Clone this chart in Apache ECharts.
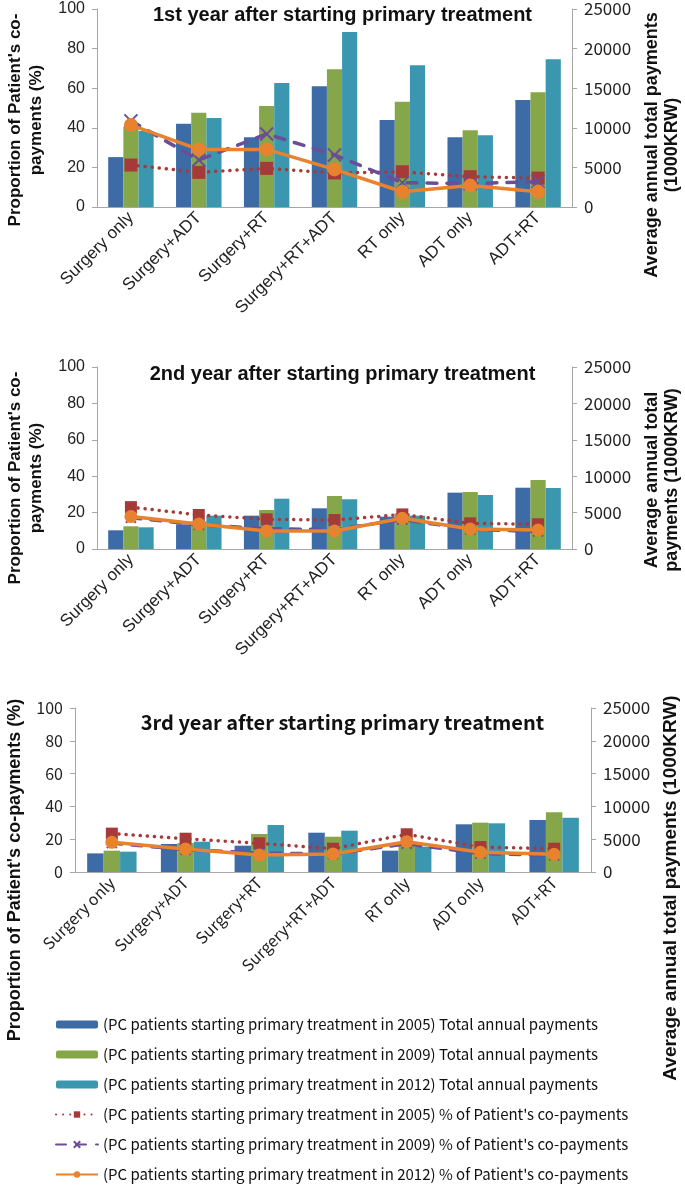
<!DOCTYPE html>
<html><head><meta charset="utf-8">
<script src="https://cdn.jsdelivr.net/npm/echarts@6/dist/echarts.min.js"></script>
<style>html,body{margin:0;padding:0;background:#fff}#c{width:685px;height:1186px}</style>
</head><body><div id="c"></div>
<script>
const categories = ['Surgery only','Surgery+ADT','Surgery+RT','Surgery+RT+ADT','RT only','ADT only','ADT+RT'];
const seriesNames = [
  '(PC patients starting primary treatment in 2005) Total annual payments',
  '(PC patients starting primary treatment in 2009) Total annual payments',
  '(PC patients starting primary treatment in 2012) Total annual payments',
  "(PC patients starting primary treatment in 2005) % of Patient's co-payments",
  "(PC patients starting primary treatment in 2009) % of Patient's co-payments",
  "(PC patients starting primary treatment in 2012) % of Patient's co-payments"
];
const leftTicks = [0,20,40,60,80,100];
const rightTicks = [0,5000,10000,15000,20000,25000];
const panelTitles = ['1st year after starting primary treatment','2nd year after starting primary treatment','3rd year after starting primary treatment'];

// Year 1
const pay1_2005 = [6300, 10500, 8800, 15250, 11000, 8800, 13500];
const pay1_2009 = [10100, 11900, 12750, 17400, 13300, 9700, 14500];
const pay1_2012 = [9600, 11250, 15650, 22100, 17900, 9050, 18650];
const co1_2005 = [21.2, 17.5, 19.5, 17.2, 17.8, 15.3, 14.6];
const co1_2009 = [43.5, 23.7, 36.9, 26.3, 12.3, 11.8, 12.8];
const co1_2012 = [41.4, 29.1, 29.1, 19.0, 7.7, 10.8, 7.7];
// Year 2
const pay2_2005 = [2570, 3390, 4580, 5590, 4440, 7740, 8420];
const pay2_2009 = [3120, 3800, 5360, 7280, 4900, 7830, 9480];
const pay2_2012 = [2980, 4580, 6910, 6830, 4580, 7420, 8380];
const co2_2005 = [23.0, 18.7, 16.3, 15.9, 19.0, 14.1, 13.6];
const co2_2009 = [17.2, 13.3, 11.2, 10.6, 16.2, 10.8, 9.6];
const co2_2012 = [17.8, 13.7, 9.9, 9.9, 16.9, 11.0, 10.4];
// Year 3
const pay3_2005 = [2840, 4270, 4010, 5990, 3250, 7270, 7920];
const pay3_2009 = [3250, 4400, 5790, 5380, 4300, 7520, 9100];
const pay3_2012 = [3100, 4620, 7160, 6300, 3860, 7420, 8280];
const co3_2005 = [23.4, 20.3, 17.5, 14.2, 23.0, 15.2, 14.2];
const co3_2009 = [17.6, 13.6, 11.6, 11.0, 17.2, 11.2, 10.2];
const co3_2012 = [18.1, 14.0, 10.4, 11.0, 18.5, 12.0, 10.8];

const colors = ['#3D6BA6','#86A64A','#3B96AF','#A63A38','#6A4E98','#E8822E'];
const XPATH = 'path://M0,0 L10,10 M10,0 L0,10';
const ARIAL = 'Liberation Sans, Arial, sans-serif';
const KR = 'Noto Sans CJK KR, sans-serif';

const panels = [
  {pay:[pay1_2005,pay1_2009,pay1_2012], co:[co1_2005,co1_2009,co1_2012],
   grid:{left:97,right:113,top:9,height:198}, titleTop:0, titleFont:ARIAL,
   lname:"Proportion of Patient's co-\npayments (%)", lsize:17, lgap:50, lshift:12,
   rname:'Average annual total payments\n(1000KRW)', rsize:18, rgap:70, rshift:37,
   xfont:ARIAL, xsize:17, big:true},
  {pay:[pay2_2005,pay2_2009,pay2_2012], co:[co2_2005,co2_2009,co2_2012],
   grid:{left:97,right:113,top:367,height:182}, titleTop:359, titleFont:ARIAL,
   lname:"Proportion of Patient's co-\npayments (%)", lsize:17, lgap:50, lshift:20,
   rname:'Average annual total\npayments (1000KRW)', rsize:18, rgap:68, rshift:22,
   xfont:ARIAL, xsize:17, big:false},
  {pay:[pay3_2005,pay3_2009,pay3_2012], co:[co3_2005,co3_2009,co3_2012],
   grid:{left:75,right:94,top:708,height:164}, titleTop:707, titleFont:KR,
   lname:"Proportion of Patient's co-payments (%)", lsize:18, lgap:49, lshift:80,
   rname:'Average annual total payments (1000KRW)', rsize:19, rgap:67, rshift:98,
   xfont:KR, xsize:16, big:false}
];

const option = {
  animation:false,
  color: colors,
  title: panels.map((p,i)=>({text:panelTitles[i], left:'center', top:p.titleTop,
     textStyle:{fontFamily:p.titleFont, fontSize:20, fontWeight:'bold', color:'#111'}})),
  grid: panels.map(p=>Object.assign({containLabel:false, outerBoundsMode:'none'}, p.grid)),
  xAxis: panels.map((p,i)=>({type:'category', gridIndex:i, data:categories,
     axisLine:{lineStyle:{color:'#A6A6A6'}}, axisTick:{length:5, lineStyle:{color:'#A6A6A6'}},
     axisLabel:{rotate:45, fontSize:p.xsize, color:'#222', fontFamily:p.xfont, margin:8, interval:0}})),
  yAxis: [],
  series: [],
  legend: {orient:'vertical', left:55, top:1017, padding:0, itemWidth:42, itemHeight:8, itemGap:15,
     textStyle:{fontFamily:KR, fontSize:15, color:'#111'}, data:seriesNames},
};
panels.forEach((p,i)=>{
  option.yAxis.push({type:'value', gridIndex:i, position:'left', min:leftTicks[0], max:leftTicks[leftTicks.length-1], interval:20,
    splitLine:{show:false}, axisLine:{show:true, lineStyle:{color:'#A6A6A6'}}, axisTick:{show:true, length:5, lineStyle:{color:'#A6A6A6'}},
    axisLabel:{fontSize:16, color:'#222', fontFamily:p.xfont, margin:12, formatter:v=>String(v)},
    name:p.lname, nameLocation:'middle', nameRotate:90, nameGap:p.lgap,
    nameTextStyle:{fontFamily:ARIAL, fontSize:p.lsize, fontWeight:'bold', color:'#111', lineHeight:21, padding:[0,2*p.lshift,0,0]}});
  option.yAxis.push({type:'value', gridIndex:i, position:'right', min:rightTicks[0], max:rightTicks[rightTicks.length-1], interval:5000,
    splitLine:{show:false}, axisLine:{show:true, lineStyle:{color:'#A6A6A6'}}, axisTick:{show:true, length:5, lineStyle:{color:'#A6A6A6'}},
    axisLabel:{fontSize:17, color:'#222', fontFamily:KR, margin:12, formatter:v=>String(v)},
    name:p.rname, nameLocation:'middle', nameRotate:90, nameGap:p.rgap,
    nameTextStyle:{fontFamily:ARIAL, fontSize:p.rsize, fontWeight:'bold', color:'#111', lineHeight:20, padding:[0,2*p.rshift,0,0]}});
  for (let k=0;k<3;k++){
    option.series.push({name:seriesNames[k], type:'bar', xAxisIndex:i, yAxisIndex:2*i+1, data:p.pay[k],
      barGap:'0%', barCategoryGap:'33%', itemStyle:{color:colors[k]}});
  }
  const ms = p.big ? 13 : 12;
  option.series.push({name:seriesNames[3], type:'line', xAxisIndex:i, yAxisIndex:2*i, data:p.co[0], z:3,
    symbol:'rect', symbolSize:ms, itemStyle:{color:colors[3]},
    lineStyle:{color:colors[3], width:3.5, type:[0.1,7], cap:'round'}});
  option.series.push({name:seriesNames[4], type:'line', xAxisIndex:i, yAxisIndex:2*i, data:p.co[1], z:4,
    symbol:XPATH, symbolSize:p.big?13:10, itemStyle:{color:'rgba(0,0,0,0)', borderColor:colors[4], borderWidth:2},
    lineStyle:{color:colors[4], width:3.5, type:[10,10], cap:'round'}});
  option.series.push({name:seriesNames[5], type:'line', xAxisIndex:i, yAxisIndex:2*i, data:p.co[2], z:5,
    symbol:'circle', symbolSize:p.big?14:13, itemStyle:{color:colors[5]},
    lineStyle:{color:colors[5], width:3.5}});
});
const chart = echarts.init(document.getElementById('c'), null, {renderer:'canvas'});
chart.setOption(option);
</script></body></html>
